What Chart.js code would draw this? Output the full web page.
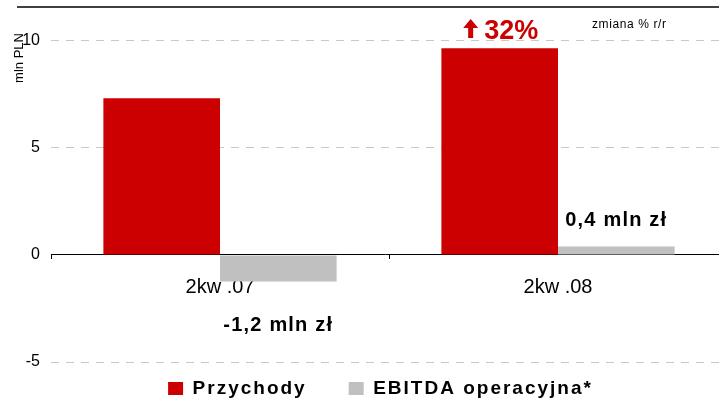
<!DOCTYPE html>
<html>
<head>
<meta charset="utf-8">
<script src="https://cdn.jsdelivr.net/npm/chart.js@4"></script>
<style>
  html, body { margin: 0; padding: 0; background: #fff; }
  #wrap { width: 719px; height: 400px; position: relative; }
</style>
</head>
<body>
<div id="wrap"><canvas id="chart"></canvas></div>
<script>
// data
const quarters = ['2kw .07', '2kw .08'];
const revenue = [7.32, 9.65];
const ebitda = [-1.24, 0.4];
const ebitdaNotes = ['-1,2 mln zł', '0,4 mln zł'];
const yTicks = [-5, 0, 5, 10];
const changeNote = '32%';
const unitLabel = 'mln PLN';
const periodNote = 'zmiana % r/r';

const RED = '#cc0000';
const GREY = '#c0c0c0';
const FONT = 'Arial, "Liberation Sans"';

// legend text is letter-spaced in the original; the plot runs past the right edge
const layoutTweaks = {
    id: 'layoutTweaks',
    afterInit: (chart) => {
        const lg = chart.legend;
        if (!lg || lg._spaced) return;
        lg._spaced = true;
        const fit = lg.fit.bind(lg);
        const draw = lg.draw.bind(lg);
        lg.fit = function () {
            const c = chart.ctx;
            c.letterSpacing = '2px';
            fit();
            c.letterSpacing = '0px';
            this.height = 38;
        };
        lg.draw = function (a) {
            const c = chart.ctx;
            c.save();
            c.letterSpacing = '2px';
            draw(a);
            c.restore();
        };
    },
    afterLayout: (chart) => {
        const lg = chart.legend;
        lg.top -= 25;
        lg.left += 21;
        lg.right += 21;

        // category axis is wider than the visible canvas
        const x = chart.scales.x;
        x.right = x.left + 676;
        x.width = 676;
        x.configure();
    }
};

// extra text and the top rule
const notesPlugin = {
    id: 'notes',
    afterDraw: (chart) => {
        const ctx = chart.ctx;
        const area = chart.chartArea;
        ctx.save();

        ctx.strokeStyle = '#000';
        ctx.lineWidth = 1.5;
        ctx.beginPath();
        ctx.moveTo(17, area.top);
        ctx.lineTo(chart.width, area.top);
        ctx.stroke();

        // axis unit, rotated
        ctx.fillStyle = '#000';
        ctx.font = '13px ' + FONT;
        ctx.translate(23, 58);
        ctx.rotate(-Math.PI / 2);
        ctx.textAlign = 'center';
        ctx.textBaseline = 'alphabetic';
        ctx.fillText(unitLabel, 0, 0);
        ctx.setTransform(1, 0, 0, 1, 0, 0);

        ctx.font = '12px ' + FONT;
        ctx.letterSpacing = '0.6px';
        ctx.textAlign = 'left';
        ctx.fillText(periodNote, 592, 28);

        // ebitda value labels
        ctx.font = 'bold 20px ' + FONT;
        ctx.letterSpacing = '1.2px';
        ctx.textAlign = 'center';
        const meta = chart.getDatasetMeta(1);
        meta.data.forEach((bar, i) => {
            const y = ebitda[i] < 0 ? bar.y + 50 : bar.y - 20;
            ctx.fillText(ebitdaNotes[i], bar.x, y);
        });
        ctx.letterSpacing = '0px';

        // change above the second revenue bar
        const rb = chart.getDatasetMeta(0).data[1];
        ctx.font = 'bold 27px ' + FONT;
        ctx.fillStyle = RED;
        ctx.textAlign = 'left';
        const tw = ctx.measureText(changeNote).width;
        const total = 21 + tw;
        const x0 = rb.x - total / 2 + 1;
        const base = 39;
        ctx.fillText(changeNote, x0 + 21, base);
        // arrow
        ctx.beginPath();
        ctx.moveTo(x0 + 7.5, base - 20);
        ctx.lineTo(x0 + 15, base - 11);
        ctx.lineTo(x0 + 10, base - 11);
        ctx.lineTo(x0 + 10, base - 1);
        ctx.lineTo(x0 + 5, base - 1);
        ctx.lineTo(x0 + 5, base - 11);
        ctx.lineTo(x0, base - 11);
        ctx.closePath();
        ctx.fill();

        ctx.restore();
    }
};

new Chart(document.getElementById('chart'), {
    type: 'bar',
    data: {
        labels: quarters,
        datasets: [
            {
                label: 'Przychody',
                data: revenue,
                backgroundColor: RED,
                categoryPercentage: 0.69,
                barPercentage: 1.0
            },
            {
                label: 'EBITDA operacyjna*',
                data: ebitda,
                backgroundColor: GREY,
                categoryPercentage: 0.69,
                barPercentage: 1.0
            }
        ]
    },
    options: {
        responsive: true,
        maintainAspectRatio: false,
        animation: false,
        layout: { padding: { top: 7, right: 0, left: 0, bottom: 0 } },
        scales: {
            x: {
                position: { y: 0 },
                grid: {
                    offset: true,
                    drawOnChartArea: false,
                    tickLength: 4,
                    color: '#000'
                },
                border: { display: true, color: '#000', width: 1 },
                ticks: {
                    color: '#000',
                    padding: 17,
                    font: { family: FONT, size: 20 }
                }
            },
            y: {
                min: -5,
                max: 11.58,
                afterBuildTicks: (axis) => {
                    axis.ticks = yTicks.map(v => ({ value: v }));
                },
                afterFit: (axis) => {
                    axis.width = 51;
                    axis.paddingTop = 0;
                    axis.paddingBottom = 0;
                },
                border: { display: false, dash: [8, 7] },
                grid: {
                    drawTicks: false,
                    color: (c) => c.tick && c.tick.value === 0 ? 'rgba(0,0,0,0)' : '#c8c8c8',
                    lineWidth: 1
                },
                ticks: {
                    color: '#000',
                    padding: 11,
                    font: { family: FONT, size: 16 }
                }
            }
        },
        plugins: {
            legend: {
                position: 'bottom',
                labels: {
                    boxWidth: 15,
                    boxHeight: 13,
                    padding: 42,
                    color: '#000',
                    font: { family: FONT, size: 19, weight: 'bold' }
                }
            },
            tooltip: { enabled: false }
        }
    },
    plugins: [layoutTweaks, notesPlugin]
});
</script>
</body>
</html>
